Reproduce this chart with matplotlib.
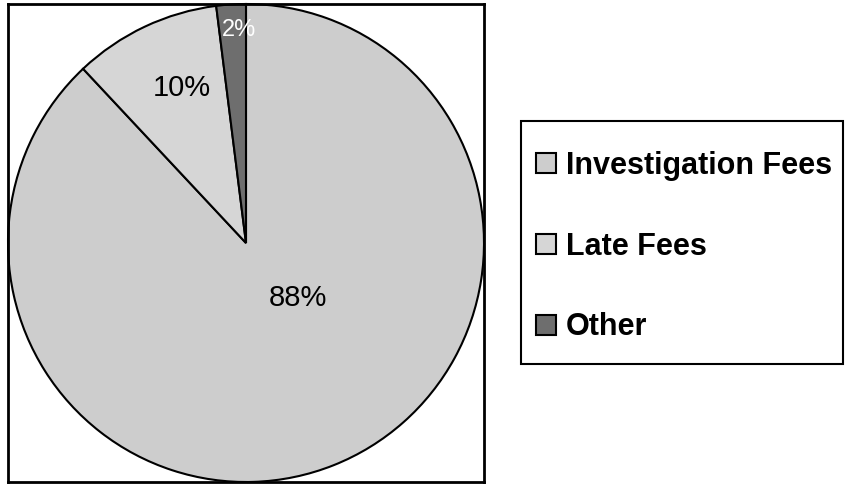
# Revenue breakdown pie chart

import matplotlib.pyplot as plt
from matplotlib.patches import Rectangle

plt.rcParams['font.family'] = ['Liberation Sans', 'DejaVu Sans']

# Data
categories = ['Investigation Fees', 'Late Fees', 'Other']
shares = [88, 10, 2]
colors = ['#cdcdcd', '#d6d6d6', '#6e6e6e']
label_colors = ['black', 'black', 'white']

fig = plt.figure(figsize=(8.46, 4.86), dpi=100)
ax = fig.add_axes([8/846, 4/486, 476/846, 478/486])

wedges, texts, autotexts = ax.pie(shares, colors=colors, startangle=90, counterclock=False,
                                  autopct='%1.0f%%', pctdistance=0.7,
                                  wedgeprops=dict(edgecolor='black', linewidth=1.5))

# label placement, font size and colour per slice
for t, c in zip(autotexts, label_colors):
    t.set_color(c)
    t.set_fontsize(21)
autotexts[0].set_position((0.22, -0.23))
autotexts[1].set_position((-0.27, 0.65))
autotexts[2].set_position((-0.03, 0.89))
autotexts[2].set_fontsize(17)

ax.set_aspect('equal', adjustable='datalim')
ax.set_xlim(-1.0, 1.0)
ax.set_ylim(-1.0, 1.0)
ax.set_frame_on(True)
ax.set_xticks([])
ax.set_yticks([])
for s in ax.spines.values():
    s.set_linewidth(2)
    s.set_color('black')

# legend entries, with a separate box drawn around them
leg = fig.legend(wedges, categories, loc='upper left',
                 bbox_to_anchor=(536/846, 1 - 151/486),
                 borderaxespad=0, borderpad=0, frameon=False,
                 prop=dict(weight='bold', size=22), handlelength=0.65, handleheight=0.65,
                 handletextpad=0.33, labelspacing=1.66)
fig.patches.append(Rectangle((521/846, 1 - 364/486), 322/846, 243/486,
                             transform=fig.transFigure, fill=False,
                             edgecolor='black', linewidth=1.5))

plt.savefig('out.png', dpi=100)
